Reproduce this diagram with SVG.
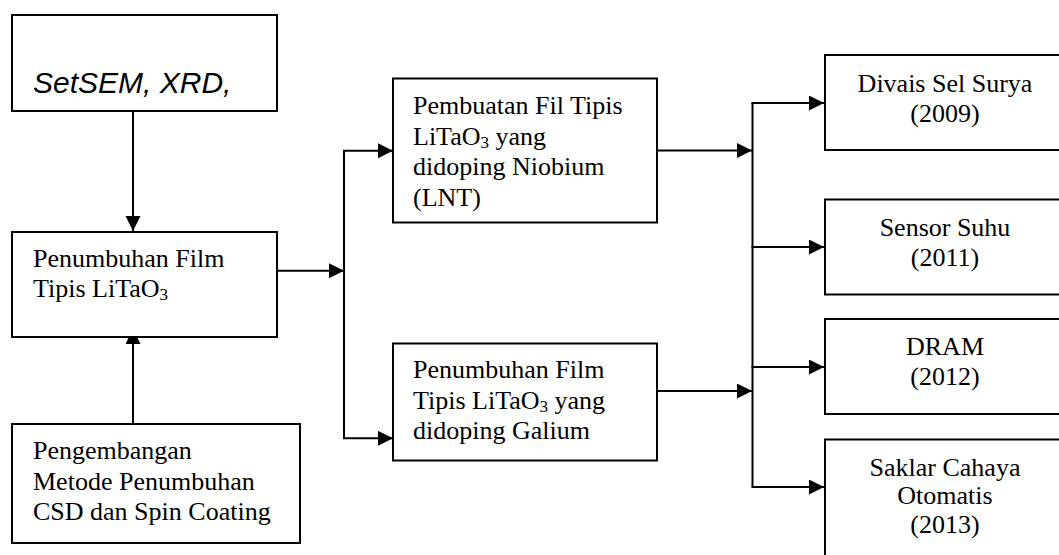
<svg xmlns="http://www.w3.org/2000/svg" width="1059" height="555" viewBox="0 0 1059 555">
<style>
.box{fill:#fff;stroke:#000;stroke-width:2}
.t{font-family:"Liberation Serif","Times New Roman",serif;font-size:26px;fill:#000}
.c{text-anchor:middle}
.it{font-family:"Liberation Sans",Arial,sans-serif;font-style:italic;font-size:30px;fill:#000}
.con{stroke:#000;stroke-width:2;fill:none}
</style>
<defs>
<marker id="arr" markerUnits="userSpaceOnUse" markerWidth="16" markerHeight="16" refX="15" refY="7.5" orient="auto">
<path d="M0,0 L15,7.5 L0,15 z" fill="#000"/>
</marker>
</defs>
<rect width="1059" height="555" fill="#fff"/>
<g id="connectors">
<line class="con" x1="133" y1="111" x2="133" y2="231" marker-end="url(#arr)"/>
<line class="con" x1="133" y1="424" x2="133" y2="329" marker-end="url(#arr)"/>
<line class="con" x1="273" y1="270.7" x2="344" y2="270.7" marker-end="url(#arr)"/>
<line class="con" x1="344" y1="150.7" x2="344" y2="438.3"/>
<line class="con" x1="343" y1="150.7" x2="393" y2="150.7" marker-end="url(#arr)"/>
<line class="con" x1="343" y1="438.3" x2="393" y2="438.3" marker-end="url(#arr)"/>
<line class="con" x1="657" y1="150.5" x2="752" y2="150.5" marker-end="url(#arr)"/>
<line class="con" x1="657" y1="391" x2="752" y2="391" marker-end="url(#arr)"/>
<line class="con" x1="752.5" y1="103" x2="752.5" y2="487"/>
<line class="con" x1="751.5" y1="103" x2="824" y2="103" marker-end="url(#arr)"/>
<line class="con" x1="751.5" y1="247" x2="824" y2="247" marker-end="url(#arr)"/>
<line class="con" x1="751.5" y1="367" x2="824" y2="367" marker-end="url(#arr)"/>
<line class="con" x1="751.5" y1="487" x2="824" y2="487" marker-end="url(#arr)"/>
</g>
<g id="node-set">
<rect class="box" x="12" y="15" width="265" height="96"/>
<text class="it" x="33" y="93">SetSEM, XRD,</text>
</g>
<g id="node-penumbuhan">
<rect class="box" x="12" y="232" width="265" height="105"/>
<text class="t" x="33" y="266.7">Penumbuhan Film</text>
<text class="t" x="33" y="297.3">Tipis LiTaO<tspan font-size="17" dy="3">3</tspan></text>
</g>
<g id="node-pengembangan">
<rect class="box" x="12" y="424" width="288" height="119"/>
<text class="t" x="33" y="459.3">Pengembangan</text>
<text class="t" x="33" y="490">Metode Penumbuhan</text>
<text class="t" x="33" y="520">CSD dan Spin Coating</text>
</g>
<g id="node-lnt">
<rect class="box" x="393" y="78.5" width="264" height="144"/>
<text class="t" x="413" y="114.3">Pembuatan Fil Tipis</text>
<text class="t" x="413" y="145">LiTaO<tspan font-size="17" dy="3">3</tspan><tspan dy="-3"> yang</tspan></text>
<text class="t" x="413" y="175">didoping Niobium</text>
<text class="t" x="413" y="206">(LNT)</text>
</g>
<g id="node-galium">
<rect class="box" x="393" y="343.5" width="264" height="117"/>
<text class="t" x="413" y="378.3">Penumbuhan Film</text>
<text class="t" x="413" y="408.8">Tipis LiTaO<tspan font-size="17" dy="3">3</tspan><tspan dy="-3"> yang</tspan></text>
<text class="t" x="413" y="439">didoping Galium</text>
</g>
<g id="node-divais">
<rect class="box" x="825" y="55" width="250" height="95"/>
<text class="t c" x="945" y="91.7">Divais Sel Surya</text>
<text class="t c" x="945" y="121.5">(2009)</text>
</g>
<g id="node-sensor">
<rect class="box" x="825" y="199.5" width="250" height="95"/>
<text class="t c" x="945" y="236">Sensor Suhu</text>
<text class="t c" x="945" y="265.5">(2011)</text>
</g>
<g id="node-dram">
<rect class="box" x="825" y="319" width="250" height="95"/>
<text class="t c" x="945" y="355">DRAM</text>
<text class="t c" x="945" y="385">(2012)</text>
</g>
<g id="node-saklar">
<rect class="box" x="825" y="439.5" width="250" height="130"/>
<text class="t c" x="945" y="475.7">Saklar Cahaya</text>
<text class="t c" x="945" y="504">Otomatis</text>
<text class="t c" x="945" y="532.7">(2013)</text>
</g>
</svg>
